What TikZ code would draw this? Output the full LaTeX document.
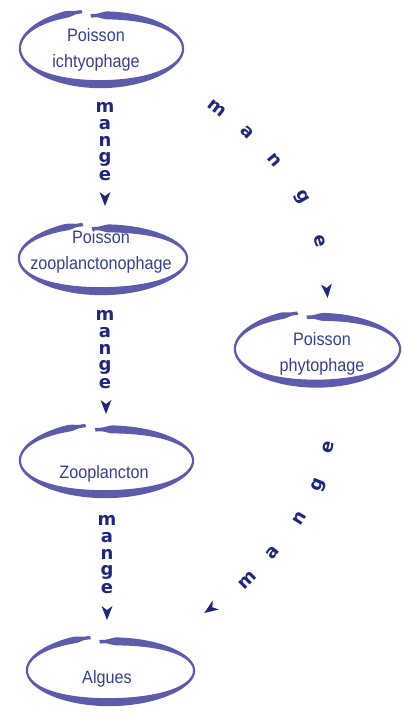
\documentclass[tikz,border=0pt]{standalone}
\usepackage{fontspec}
\setmainfont{Liberation Sans}
\newfontfamily\lblfont{Liberation Sans}[FakeStretch=0.9]
\newfontfamily\mfont{DejaVu Sans}
\definecolor{ellcol}{RGB}{92,92,170}
\definecolor{lblcol}{RGB}{55,65,135}
\definecolor{mcol}{RGB}{30,40,120}
\tikzset{
  declare function={ang(\u)=98-354*\u; hh(\u)=(1.1+2.9*sin(ang(\u))*sin(ang(\u)))*max(0.45,min(1,\u/0.03,(1-\u)/0.03));},
  lbl/.style={font=\lblfont\fontsize{18}{26}\selectfont, text=lblcol, align=center, inner sep=0pt},
  mletter/.style={font=\mfont\bfseries\fontsize{18}{18}\selectfont, text=mcol, inner sep=0pt, text height=9.8pt, text depth=0pt},
  ahead/.pic={\fill[mcol] (7,0) -- (-7,5.5) -- (-3,0) -- (-7,-5.5) -- cycle;}
}
\newcommand\handell[4]{%
  \fill[ellcol] plot[domain=0:1,samples=160,variable=\t,smooth]
    ({#1+(#3-2*(1-\t)+hh(\t))*cos(ang(\t))},{#2-(#4-5*(1-\t)+hh(\t))*sin(ang(\t))})
    -- plot[domain=1:0,samples=160,variable=\t,smooth]
    ({#1+(#3-2*(1-\t)-hh(\t))*cos(ang(\t))},{#2-(#4-5*(1-\t)-hh(\t))*sin(ang(\t))})
    -- cycle;}
\begin{document}
\begin{tikzpicture}[x=1pt,y=-1pt]
\path[fill=white] (0,0) rectangle (404,713);
\useasboundingbox (0,0) rectangle (404,713);
% ellipses
\handell{102}{48.5}{82.5}{38}
\handell{103.5}{258.5}{85}{35}
\handell{107}{460.5}{87.5}{36}
\handell{318}{349}{83.5}{37}
\handell{111}{670.5}{84.5}{34}
% labels
\node[lbl] (ichtyo) at (96,50.3) {Poisson\\ichtyophage};
\node[lbl] (zoofish) at (101,251.5) {Poisson\\zooplanctonophage};
\node[lbl] (phyto) at (322,353.5) {Poisson\\phytophage};
\node[lbl,anchor=base] (zoopl) at (104,478) {Zooplancton};
\node[lbl,anchor=base] (algues) at (107,683) {Algues};
% column 1
\node[mletter] (c1m) at (105,108) {m};
\node[mletter] (c1a) at (105,125) {a};
\node[mletter] (c1n) at (105,141.5) {n};
\node[mletter] (c1g) at (105,158) {g};
\node[mletter] (c1e) at (105,176) {e};
\coordinate (c1t) at (105,199);
\pic[rotate=-90] at (c1t) {ahead};
% column 2
\node[mletter] (c2m) at (105,316) {m};
\node[mletter] (c2a) at (105,333) {a};
\node[mletter] (c2n) at (105,349.5) {n};
\node[mletter] (c2g) at (105,366) {g};
\node[mletter] (c2e) at (105,384) {e};
\coordinate (c2t) at (106,407);
\pic[rotate=-90] at (c2t) {ahead};
% column 3
\node[mletter] (c3m) at (107,521) {m};
\node[mletter] (c3a) at (107,538) {a};
\node[mletter] (c3n) at (107,554.5) {n};
\node[mletter] (c3g) at (107,571) {g};
\node[mletter] (c3e) at (107,589) {e};
\coordinate (c3t) at (107,613);
\pic[rotate=-90] at (c3t) {ahead};
% diagonal 1
\node[mletter,rotate=-38] (d1m) at (217,108) {m};
\node[mletter,rotate=-45] (d1a) at (247,132) {a};
\node[mletter,rotate=-50] (d1n) at (274,160) {n};
\node[mletter,rotate=-60] (d1g) at (303,197) {g};
\node[mletter,rotate=-75] (d1e) at (320,241) {e};
\coordinate (d1t) at (327,291);
\pic[rotate=-85] at (d1t) {ahead};
% diagonal 2
\node[mletter,rotate=45] (d2m) at (248,580) {m};
\node[mletter,rotate=50] (d2a) at (273,553) {a};
\node[mletter,rotate=58] (d2n) at (300,518) {n};
\node[mletter,rotate=68] (d2g) at (317,485) {g};
\node[mletter,rotate=75] (d2e) at (328,447) {e};
\coordinate (d2t) at (210,609);
\pic[rotate=215] at (d2t) {ahead};
\end{tikzpicture}
\end{document}
